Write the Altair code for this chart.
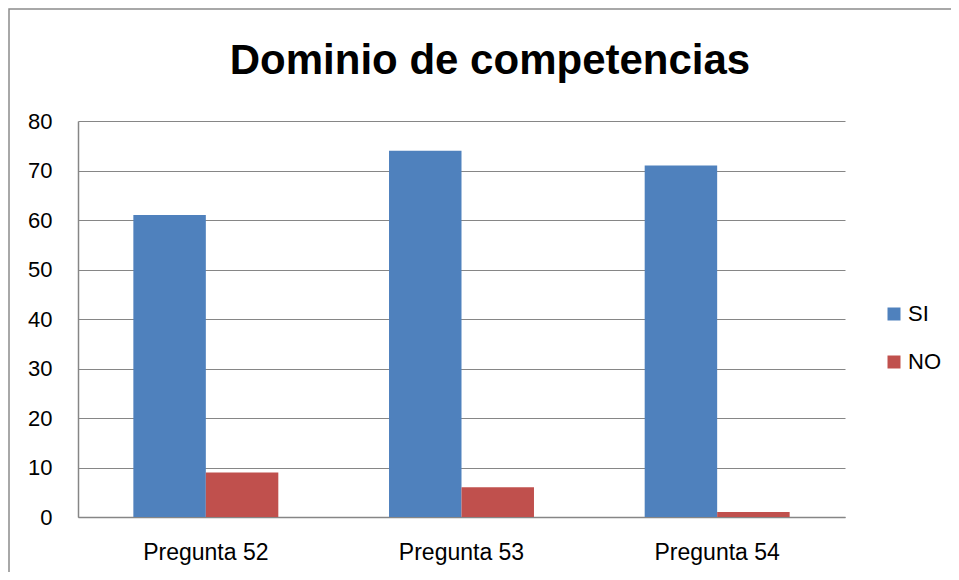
import altair as alt
import pandas as pd

categories = ["Pregunta 52", "Pregunta 53", "Pregunta 54"]
series = ["SI", "NO"]
si_values = [61, 74, 71]
no_values = [9, 6, 1]
colors = ["#4F81BD", "#C0504D"]
title_text = "Dominio de competencias"

rows = []
for c, s, n in zip(categories, si_values, no_values):
    rows.append({"pregunta": c, "serie": "SI", "valor": s})
    rows.append({"pregunta": c, "serie": "NO", "valor": n})
df = pd.DataFrame(rows)

W, H = 767, 396
PL, PT, PR, PB = 70, 113, 106, 55
FONT = "Liberation Sans"

bars = alt.Chart(df).mark_bar().encode(
    x=alt.X("pregunta:N", sort=categories, title=None,
            scale=alt.Scale(paddingInner=0.433, paddingOuter=0.2165),
            axis=alt.Axis(labelAngle=0, ticks=False, labelPadding=24, grid=False,
                          domainColor="#868686", labelFontSize=23, labelFont=FONT,
                          labelColor="#000000")),
    xOffset=alt.XOffset("serie:N", sort=series, scale=alt.Scale(paddingInner=0, paddingOuter=0)),
    y=alt.Y("valor:Q", title=None,
            scale=alt.Scale(domain=[0, 80], nice=False),
            axis=alt.Axis(values=[0, 10, 20, 30, 40, 50, 60, 70, 80], ticks=False,
                          labelPadding=26, gridColor="#868686", domainColor="#868686",
                          labelFontSize=22, labelFont=FONT, labelColor="#000000")),
    color=alt.Color("serie:N", sort=series,
                    scale=alt.Scale(domain=series, range=colors),
                    legend=alt.Legend(title=None, orient="none", legendX=805, legendY=182,
                                      symbolType="square", symbolSize=169,
                                      symbolStrokeWidth=0, labelFontSize=22,
                                      labelFont=FONT, rowPadding=26, labelOffset=3)),
)

border = alt.Chart(pd.DataFrame({"b": [0]})).mark_rect(
    fill="transparent", stroke="#8c8c8c", strokeWidth=1.5
).encode(
    x=alt.value(-PL + 1), x2=alt.value(W + PR + 10),
    y=alt.value(-PT + 1), y2=alt.value(H + PB + 10),
)

title = alt.Chart(pd.DataFrame({"t": [title_text]})).mark_text(
    font=FONT, fontSize=42, fontWeight="bold", color="#000000",
    align="center", baseline="alphabetic"
).encode(
    text="t:N", x=alt.value(412), y=alt.value(-47),
)

chart = alt.layer(border, bars, title).properties(
    width=W, height=H,
    padding={"left": PL, "top": PT, "right": PR, "bottom": PB},
    autosize=alt.AutoSizeParams(type="none"),
).configure_view(stroke=None).configure_axis(gridWidth=1, domainWidth=1.5)

chart.save("out.html", embed_options={"renderer": "svg", "actions": False})
